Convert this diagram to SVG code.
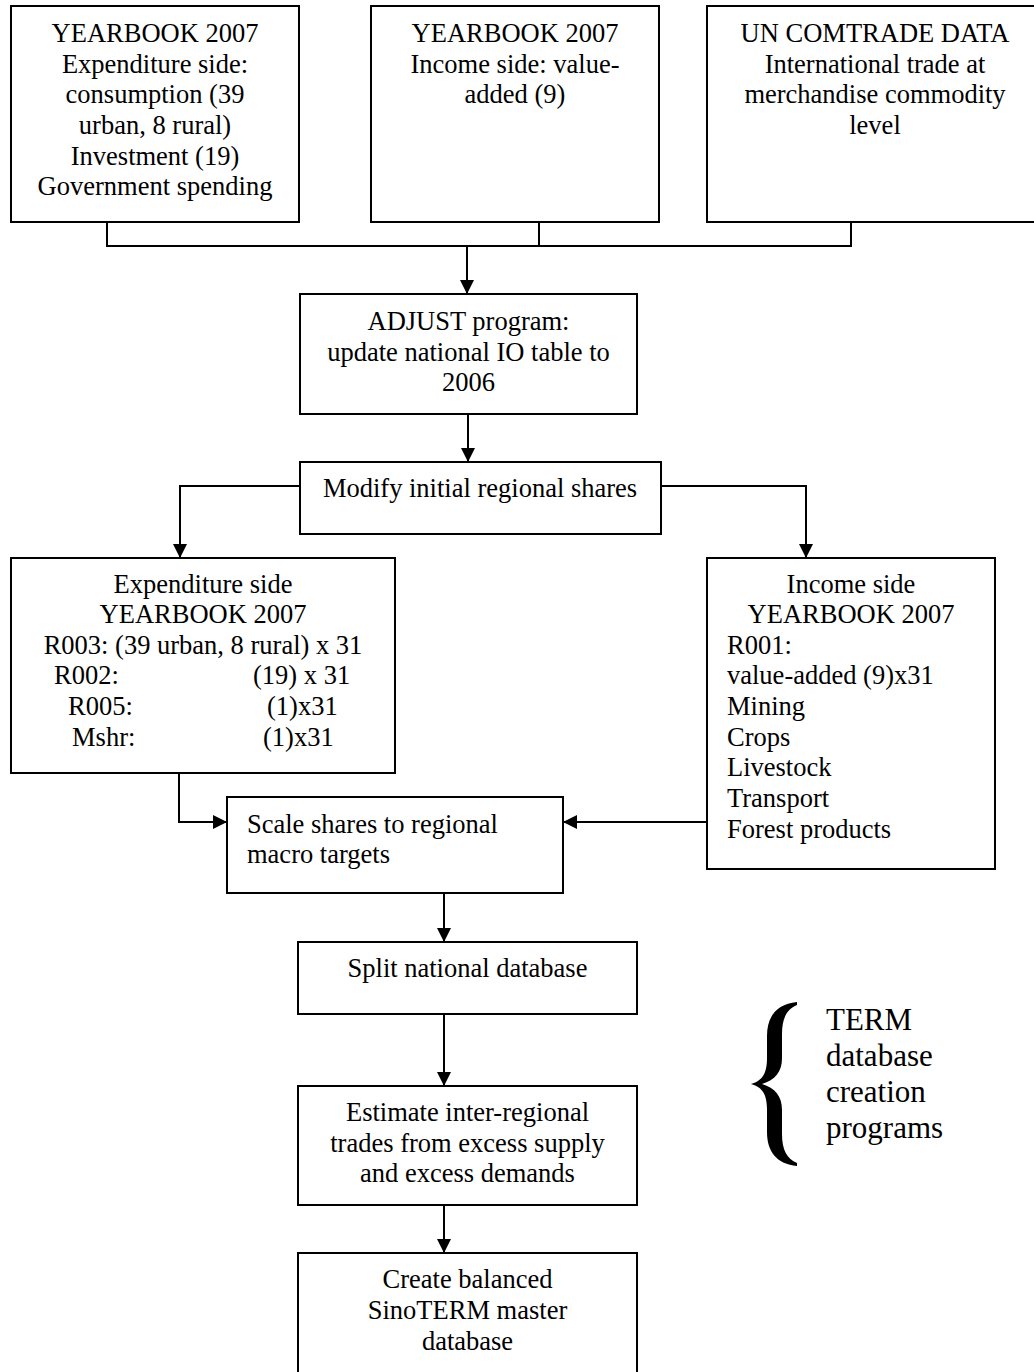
<svg xmlns="http://www.w3.org/2000/svg" width="1034" height="1372" viewBox="0 0 1034 1372">
<style>
.box{fill:#fff;stroke:#000;stroke-width:2}
.t{font-family:"Liberation Serif","Times New Roman",serif;font-size:26.5px;fill:#000}
.c{text-anchor:middle}
.conn{fill:none;stroke:#000;stroke-width:2}
.big{font-family:"Liberation Serif","Times New Roman",serif;font-size:31px;fill:#000}
</style>
<defs>
<marker id="arr" markerUnits="userSpaceOnUse" markerWidth="14" markerHeight="14" refX="14" refY="7" orient="auto">
<path d="M0,0 L14,7 L0,14 z" fill="#000"/>
</marker>
</defs>
<rect width="1034" height="1372" fill="#fff"/>
<g id="connectors">
<path class="conn" d="M107,222 V246 H851 V222 M539,222 V246"/>
<path class="conn" d="M467,246 V294" marker-end="url(#arr)"/>
<path class="conn" d="M468,414 V462" marker-end="url(#arr)"/>
<path class="conn" d="M300,486 H180 V558" marker-end="url(#arr)"/>
<path class="conn" d="M661,486 H806 V558" marker-end="url(#arr)"/>
<path class="conn" d="M179,773 V822 H227" marker-end="url(#arr)"/>
<path class="conn" d="M707,822 H563" marker-end="url(#arr)"/>
<path class="conn" d="M444,893 V942" marker-end="url(#arr)"/>
<path class="conn" d="M444,1014 V1086" marker-end="url(#arr)"/>
<path class="conn" d="M444,1205 V1253" marker-end="url(#arr)"/>
</g>
<g id="yearbook-expenditure">
<rect class="box" x="11" y="6" width="288" height="216"/>
<text class="t c" x="155" y="42">YEARBOOK 2007</text>
<text class="t c" x="155" y="73">Expenditure side:</text>
<text class="t c" x="155" y="103">consumption (39</text>
<text class="t c" x="155" y="134">urban, 8 rural)</text>
<text class="t c" x="155" y="165">Investment (19)</text>
<text class="t c" x="155" y="195">Government spending</text>
</g>
<g id="yearbook-income">
<rect class="box" x="371" y="6" width="288" height="216"/>
<text class="t c" x="515" y="42">YEARBOOK 2007</text>
<text class="t c" x="515" y="73">Income side: value-</text>
<text class="t c" x="515" y="103">added (9)</text>
</g>
<g id="un-comtrade">
<rect class="box" x="707" y="6" width="340" height="216"/>
<text class="t c" x="875" y="42">UN COMTRADE DATA</text>
<text class="t c" x="875" y="73">International trade at</text>
<text class="t c" x="875" y="103">merchandise commodity</text>
<text class="t c" x="875" y="134">level</text>
</g>
<g id="adjust">
<rect class="box" x="300" y="294" width="337" height="120"/>
<text class="t c" x="468.5" y="330">ADJUST program:</text>
<text class="t c" x="468.5" y="361">update national IO table to</text>
<text class="t c" x="468.5" y="391">2006</text>
</g>
<g id="modify">
<rect class="box" x="300" y="462" width="361" height="72"/>
<text class="t c" x="480" y="497">Modify initial regional shares</text>
</g>
<g id="expenditure-side">
<rect class="box" x="11" y="558" width="384" height="215"/>
<text class="t c" x="203" y="593">Expenditure side</text>
<text class="t c" x="203" y="623">YEARBOOK 2007</text>
<text class="t c" x="203" y="654">R003: (39 urban, 8 rural) x 31</text>
<text class="t" x="54" y="684">R002:</text>
<text class="t" x="253" y="684">(19) x 31</text>
<text class="t" x="68" y="715">R005:</text>
<text class="t" x="267" y="715">(1)x31</text>
<text class="t" x="72" y="746">Mshr:</text>
<text class="t" x="263" y="746">(1)x31</text>
</g>
<g id="income-side">
<rect class="box" x="707" y="558" width="288" height="311"/>
<text class="t c" x="851" y="593">Income side</text>
<text class="t c" x="851" y="623">YEARBOOK 2007</text>
<text class="t" x="727" y="654">R001:</text>
<text class="t" x="727" y="684">value-added (9)x31</text>
<text class="t" x="727" y="715">Mining</text>
<text class="t" x="727" y="746">Crops</text>
<text class="t" x="727" y="776">Livestock</text>
<text class="t" x="727" y="807">Transport</text>
<text class="t" x="727" y="838">Forest products</text>
</g>
<g id="scale">
<rect class="box" x="227" y="797" width="336" height="96"/>
<text class="t" x="247" y="833">Scale shares to regional</text>
<text class="t" x="247" y="863">macro targets</text>
</g>
<g id="split">
<rect class="box" x="298" y="942" width="339" height="72"/>
<text class="t c" x="467.5" y="977">Split national database</text>
</g>
<g id="estimate">
<rect class="box" x="298" y="1086" width="339" height="119"/>
<text class="t c" x="467.5" y="1121">Estimate inter-regional</text>
<text class="t c" x="467.5" y="1152">trades from excess supply</text>
<text class="t c" x="467.5" y="1182">and excess demands</text>
</g>
<g id="create">
<rect class="box" x="298" y="1253" width="339" height="140"/>
<text class="t c" x="467.5" y="1288">Create balanced</text>
<text class="t c" x="467.5" y="1319">SinoTERM master</text>
<text class="t c" x="467.5" y="1350">database</text>
</g>
<g id="term-brace">
<path fill="#000" d="M797,1002 C777,1004 767,1016 767,1036 L767,1058 C767,1074 762,1081 751,1084 C762,1087 767,1094 767,1110 L767,1132 C767,1152 777,1164 797,1166 L797,1163 C787,1159 782,1150 782,1134 L782,1110 C782,1096 775,1088 762,1084 C775,1080 782,1072 782,1058 L782,1034 C782,1018 787,1009 797,1005 Z"/>
<text class="big" x="826" y="1030">TERM</text>
<text class="big" x="826" y="1066">database</text>
<text class="big" x="826" y="1102">creation</text>
<text class="big" x="826" y="1138">programs</text>
</g>
</svg>
